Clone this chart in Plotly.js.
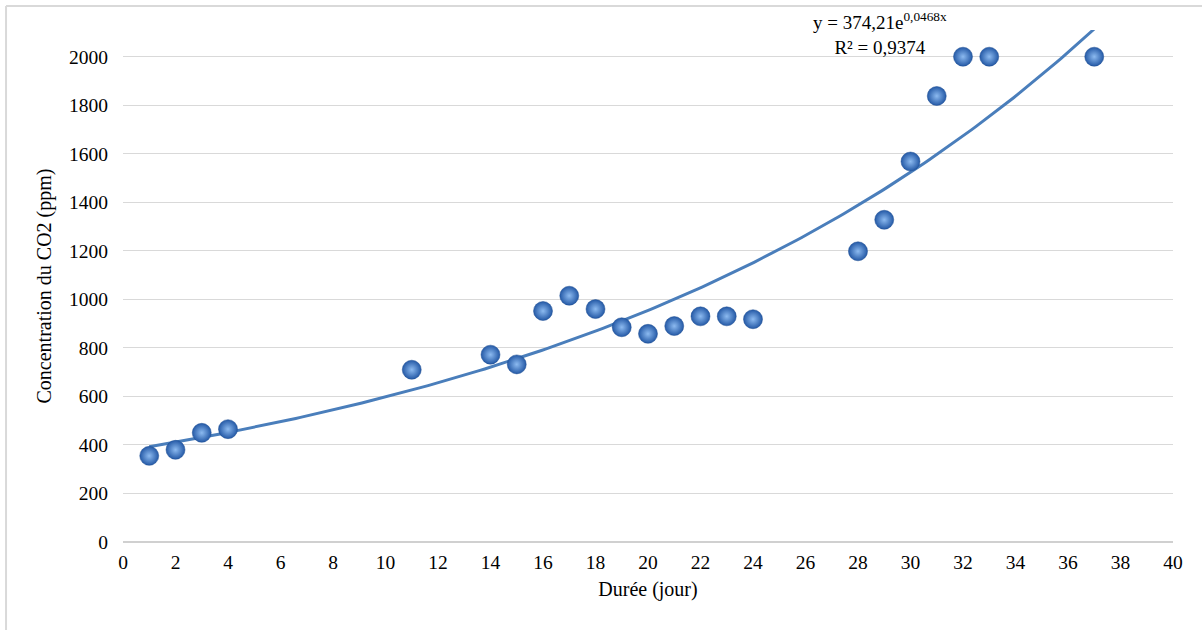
<!DOCTYPE html>
<html>
<head>
<meta charset="utf-8">
<script src="https://cdn.plot.ly/plotly-3.0.1.min.js"></script>
<style>html,body{margin:0;padding:0;background:#fff;}#chart{width:1202px;height:630px;}</style>
</head>
<body>
<div id="chart"></div>
<script>
// Observed data (day, CO2 ppm)
const days = [1, 2, 3, 4, 11, 14, 15, 16, 17, 18, 19, 20, 21, 22, 23, 24, 28, 29, 30, 31, 32, 33, 37];
const co2 = [355, 380, 450, 465, 710, 772, 732, 952, 1015, 960, 885, 858, 890, 930, 930, 918, 1198, 1328, 1568, 1838, 2000, 2000, 2000];

// Exponential trendline as displayed on the chart: y = a * e^(b x)
const trendA = 374.21;
const trendB = 0.0468;
const trendStart = 1;
const trendEnd = 37;

const xTicks = [0, 2, 4, 6, 8, 10, 12, 14, 16, 18, 20, 22, 24, 26, 28, 30, 32, 34, 36, 38, 40];
const yTicks = [0, 200, 400, 600, 800, 1000, 1200, 1400, 1600, 1800, 2000];

const equationText = 'y = 374,21e<sup>0,0468x</sup><br>R² = 0,9374';
const xTitle = 'Durée (jour)';
const yTitle = 'Concentration du CO2 (ppm)';

// Trend curve sampled along x
const tx = [], ty = [];
const steps = 200;
for (let i = 0; i <= steps; i++) {
  const x = trendStart + (trendEnd - trendStart) * i / steps;
  tx.push(x);
  ty.push(trendA * Math.exp(trendB * x));
}

const font = 'Liberation Serif';

const traces = [
  {
    x: tx, y: ty, type: 'scatter', mode: 'lines',
    line: { color: '#4a7ebb', width: 3 }, showlegend: false, hoverinfo: 'skip'
  },
  {
    x: days, y: co2, type: 'scatter', mode: 'markers',
    marker: {
      size: 19, color: '#2459a6',
      gradient: { type: 'radial', color: '#8cbaf0' },
      line: { width: 0.5, color: '#1f4f92' }
    },
    showlegend: false
  }
];

const layout = {
  width: 1202, height: 630,
  margin: { l: 123, r: 29, t: 30, b: 88 },
  paper_bgcolor: '#ffffff', plot_bgcolor: '#ffffff',
  font: { family: font, size: 19.5, color: '#000' },
  showlegend: false,
  xaxis: {
    range: [0, 40], tickvals: xTicks, ticktext: xTicks.map(String),
    showgrid: false, zeroline: false, showline: false, ticks: '',
    tickfont: { family: font, size: 19.5, color: '#000' },
    ticklabelstandoff: 6,
    title: { text: xTitle, font: { family: font, size: 20, color: '#000' }, standoff: 10 },
    fixedrange: true
  },
  yaxis: {
    range: [0, 2110], tickvals: yTicks, ticktext: yTicks.map(String),
    showgrid: true, gridcolor: '#d9d9d9', gridwidth: 1,
    zeroline: true, zerolinecolor: '#d0d0d0', zerolinewidth: 1.5,
    showline: false, ticks: '',
    tickfont: { family: font, size: 19.5, color: '#000' },
    ticklabelstandoff: 14,
    title: { text: yTitle, font: { family: font, size: 20, color: '#000' }, standoff: 12 },
    fixedrange: true
  },
  shapes: [
    { type: 'line', xref: 'paper', yref: 'paper', x0: -0.1114, x1: 1.04, y0: 1.0469, y1: 1.0469,
      line: { color: '#d9d9d9', width: 2 } },
    { type: 'line', xref: 'paper', yref: 'paper', x0: -0.1114, x1: -0.1114, y0: 1.0469, y1: -0.2,
      line: { color: '#d9d9d9', width: 2 } }
  ],
  annotations: [
    { xref: 'paper', yref: 'paper', x: 0.721, y: 0.994, xanchor: 'center', yanchor: 'middle',
      text: equationText, showarrow: false, align: 'center',
      font: { family: font, size: 19, color: '#000' } }
  ]
};

Plotly.newPlot('chart', traces, layout, { staticPlot: true, displayModeBar: false });
</script>
</body>
</html>
